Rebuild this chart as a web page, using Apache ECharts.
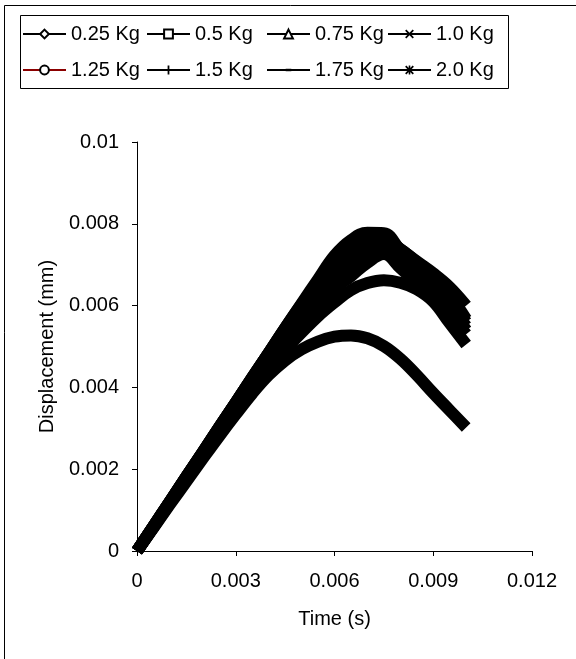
<!DOCTYPE html>
<html>
<head>
<meta charset="utf-8">
<script src="https://cdn.jsdelivr.net/npm/echarts@6/dist/echarts.min.js"></script>
<style>
html,body{margin:0;padding:0;background:#fff;}
#chart{width:576px;height:659px;}
</style>
</head>
<body>
<div id="chart"></div>
<script>
// Time (s)
var time = [0,0.0005,0.001,0.0015,0.002,0.0025,0.003,0.0035,0.004,0.0045,0.005,0.0055,0.006,0.0065,0.007,0.0075,0.008,0.0085,0.009,0.0095,0.01];
// Displacement (mm) per mass
var m025 = [0,0.00057,0.00114,0.00170,0.00226,0.00281,0.00334,0.00385,0.00430,0.00466,0.00493,0.00512,0.00524,0.00527,0.00520,0.00501,0.00470,0.00430,0.00386,0.00344,0.00302];
var m05  = [0,0.00058,0.00117,0.00175,0.00233,0.00290,0.00345,0.00398,0.00447,0.00492,0.00534,0.00574,0.00608,0.00638,0.00655,0.00662,0.00656,0.00640,0.00610,0.00557,0.00505];
var m075 = [0,0.000595,0.00119,0.00179,0.00238,0.00298,0.00357,0.00415,0.00470,0.00520,0.00565,0.00606,0.00642,0.00672,0.00705,0.00726,0.00692,0.00655,0.00618,0.00578,0.00530];
var m10  = [0,0.0006,0.0012,0.0018,0.0024,0.0030,0.0036,0.0042,0.00478,0.00533,0.00582,0.00627,0.00666,0.00698,0.00722,0.00736,0.00716,0.00680,0.00640,0.00596,0.00540];
var m125 = [0,0.000603,0.00121,0.00181,0.00241,0.00302,0.00362,0.00422,0.00482,0.00540,0.00594,0.00642,0.00684,0.00718,0.00742,0.00750,0.00728,0.00694,0.00654,0.00612,0.00560];
var m15  = [0,0.000605,0.00121,0.00182,0.00242,0.00303,0.00363,0.00424,0.00484,0.00544,0.00600,0.00652,0.00698,0.00734,0.00755,0.00760,0.00738,0.00706,0.00668,0.00625,0.00567];
var m175 = [0,0.000605,0.00121,0.00182,0.00242,0.00303,0.00363,0.00424,0.00484,0.00545,0.00603,0.00656,0.00702,0.00738,0.00758,0.00764,0.00738,0.00708,0.00679,0.00645,0.00600];
var m20  = [0,0.000605,0.00121,0.00182,0.00242,0.00303,0.00363,0.00424,0.00484,0.00545,0.00605,0.00664,0.00722,0.00760,0.00778,0.00777,0.00734,0.00688,0.00644,0.00600,0.00550];

var seriesNames = ['0.25 Kg','0.5 Kg','0.75 Kg','1.0 Kg','1.25 Kg','1.5 Kg','1.75 Kg','2.0 Kg'];
var seriesValues = [m025,m05,m075,m10,m125,m15,m175,m20];

var xTickLabels = ['0','0.003','0.006','0.009','0.012'];
var yTickLabels = ['0','0.002','0.004','0.006','0.008','0.01'];

var SYM_X = 'path://M0,1.4L1.4,0L5,3.6L8.6,0L10,1.4L6.4,5L10,8.6L8.6,10L5,6.4L1.4,10L0,8.6L3.6,5Z';
var SYM_PLUS = 'path://M4,0H6V4H10V6H6V10H4V6H0V4H4Z';
var SYM_DASH = 'path://M0,0M10,10M1.8,3.6H8.2V6.4H1.8Z';
var SYM_STAR = 'path://M0,1.4L1.4,0L5,3.6L8.6,0L10,1.4L6.4,5L10,8.6L8.6,10L5,6.4L1.4,10L0,8.6L3.6,5ZM4.1,0H5.9V10H4.1Z';
var symbols = ['emptyDiamond','emptyRect','emptyTriangle',SYM_X,'emptyCircle',SYM_PLUS,SYM_DASH,SYM_STAR];

var FONT = 'Liberation Sans, Arial, sans-serif';

var series = seriesNames.map(function(name, k){
  return {
    name: name,
    type: 'line',
    data: time.map(function(t,i){ return [t, seriesValues[k][i]]; }),
    smooth: 0.4,
    showSymbol: false,
    symbol: symbols[k],
    symbolSize: 9,
    clip: false,
    itemStyle: {color: '#000'},
    lineStyle: {color: '#000', width: 12, cap: 'butt', join: 'round'},
    emphasis: {disabled: true},
    animation: false
  };
});

function legendCol(left, names){
  return {
    orient: 'vertical',
    left: left, top: 24,
    padding: 0,
    itemGap: 16,
    itemWidth: 43,
    itemHeight: 11,
    selectedMode: false,
    lineStyle: {width: 2},
    textStyle: {fontFamily: FONT, fontSize: 20, color: '#000'},
    data: names.map(function(n){
      if (n === '1.25 Kg') return {name: n, lineStyle: {color: '#8b0000', width: 2}};
      return {name: n};
    })
  };
}

var chart = echarts.init(document.getElementById('chart'), null, {renderer: 'canvas'});
chart.setOption({
  backgroundColor: '#fff',
  animation: false,
  textStyle: {fontFamily: FONT},
  graphic: [
    {type: 'rect', shape: {x: 4.5, y: 5.5, width: 620, height: 720}, style: {fill: 'none', stroke: '#000', lineWidth: 1}, silent: true},
    {type: 'rect', shape: {x: 20.5, y: 15.5, width: 488, height: 73}, style: {fill: 'none', stroke: '#000', lineWidth: 1}, silent: true}
  ],
  legend: [
    legendCol(22, ['0.25 Kg','1.25 Kg']),
    legendCol(146, ['0.5 Kg','1.5 Kg']),
    legendCol(266, ['0.75 Kg','1.75 Kg']),
    legendCol(387, ['1.0 Kg','2.0 Kg'])
  ],
  grid: {left: 137, top: 142, width: 395, height: 409, containLabel: false},
  xAxis: {
    type: 'value', min: 0, max: 0.012, interval: 0.003,
    name: 'Time (s)', nameLocation: 'middle', nameGap: 58,
    nameTextStyle: {fontFamily: FONT, fontSize: 20, color: '#000'},
    axisLine: {show: true, onZero: false, lineStyle: {color: '#000', width: 1}},
    axisTick: {show: true, inside: false, length: 5, lineStyle: {color: '#000'}},
    axisLabel: {fontFamily: FONT, fontSize: 20, color: '#000', margin: 20,
      formatter: function(v){ return xTickLabels[Math.round(v/0.003)]; }},
    splitLine: {show: false}
  },
  yAxis: {
    type: 'value', min: 0, max: 0.01, interval: 0.002,
    name: 'Displacement (mm)', nameLocation: 'middle', nameGap: 80, nameRotate: 90,
    nameTextStyle: {fontFamily: FONT, fontSize: 20, color: '#000'},
    axisLine: {show: true, onZero: false, lineStyle: {color: '#000', width: 1}},
    axisTick: {show: true, inside: false, length: 5, lineStyle: {color: '#000'}},
    axisLabel: {fontFamily: FONT, fontSize: 20, color: '#000', margin: 18,
      formatter: function(v){ return yTickLabels[Math.round(v/0.002)]; }},
    splitLine: {show: false}
  },
  series: series
});
</script>
</body>
</html>
